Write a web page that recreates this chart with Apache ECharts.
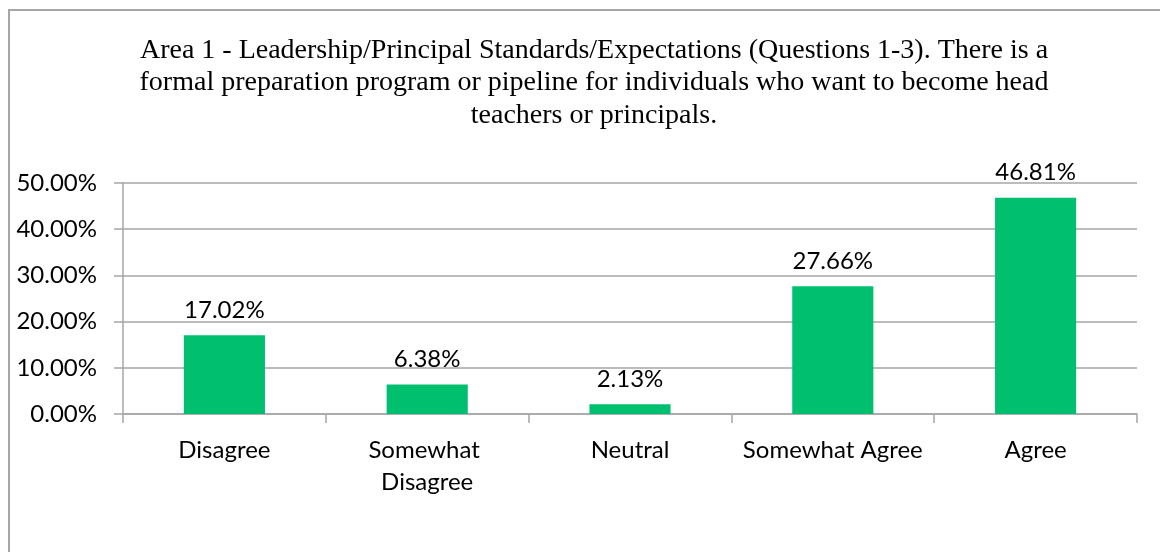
<!DOCTYPE html>
<html>
<head>
<meta charset="utf-8">
<script src="https://cdn.jsdelivr.net/npm/echarts@6/dist/echarts.min.js"></script>
<style>
  html, body { margin: 0; padding: 0; background: #ffffff; overflow: hidden; }
  #chart { width: 1160px; height: 552px; }
</style>
</head>
<body>
<div id="chart"></div>
<script>
// Survey response shares for one leadership-standards question
const categories = ['Disagree', 'Somewhat Disagree', 'Neutral', 'Somewhat Agree', 'Agree'];
const shares = [17.02, 6.38, 2.13, 27.66, 46.81];
const yTicks = [0, 10, 20, 30, 40, 50];

const titleText = 'Area 1 - Leadership/Principal Standards/Expectations (Questions 1-3). There is a\n' +
  'formal preparation program or pipeline for individuals who want to become head\n' +
  'teachers or principals.';

const sansFont = 'Lato';
const gray = '#A6A6A6';

const chart = echarts.init(document.getElementById('chart'), null, { renderer: 'canvas' });
chart.setOption({
  backgroundColor: '#ffffff',
  animation: false,
  graphic: [{
    type: 'rect',
    silent: true,
    shape: { x: 9, y: 10, width: 1300, height: 700 },
    style: { fill: 'none', stroke: gray, lineWidth: 2 }
  }],
  title: {
    text: titleText,
    left: 589,
    top: 29,
    textAlign: 'center',
    textStyle: {
      fontFamily: 'Liberation Serif',
      fontSize: 28,
      fontWeight: 'normal',
      color: '#000000',
      lineHeight: 32.5,
      align: 'center'
    }
  },
  grid: { left: 123, right: 23, top: 183, bottom: 138, containLabel: false },
  xAxis: {
    type: 'category',
    data: categories,
    boundaryGap: true,
    axisLine: { show: true, lineStyle: { color: gray, width: 1.5 } },
    axisTick: { show: true, length: 9, interval: 0, alignWithLabel: false, lineStyle: { color: gray, width: 1.5 } },
    axisLabel: {
      interval: 0,
      margin: 20,
      fontFamily: sansFont,
      fontSize: 24,
      color: '#000000',
      lineHeight: 32,
      width: 192,
      overflow: 'break'
    }
  },
  yAxis: {
    type: 'value',
    min: yTicks[0],
    max: yTicks[yTicks.length - 1],
    interval: yTicks[1] - yTicks[0],
    axisLine: { show: true, lineStyle: { color: gray, width: 1.5 } },
    axisTick: { show: true, length: 9, lineStyle: { color: gray, width: 1.5 } },
    splitLine: { show: true, lineStyle: { color: gray, width: 1.5 } },
    axisLabel: {
      margin: 26,
      fontFamily: sansFont,
      fontSize: 24,
      color: '#000000',
      formatter: v => v.toFixed(2) + '%'
    }
  },
  series: [{
    type: 'bar',
    data: shares,
    barWidth: '40%',
    itemStyle: { color: '#00BF6F' },
    label: {
      show: true,
      position: 'top',
      distance: 13,
      fontFamily: sansFont,
      fontSize: 24,
      color: '#000000',
      formatter: p => p.value.toFixed(2) + '%'
    }
  }]
});
</script>
</body>
</html>
